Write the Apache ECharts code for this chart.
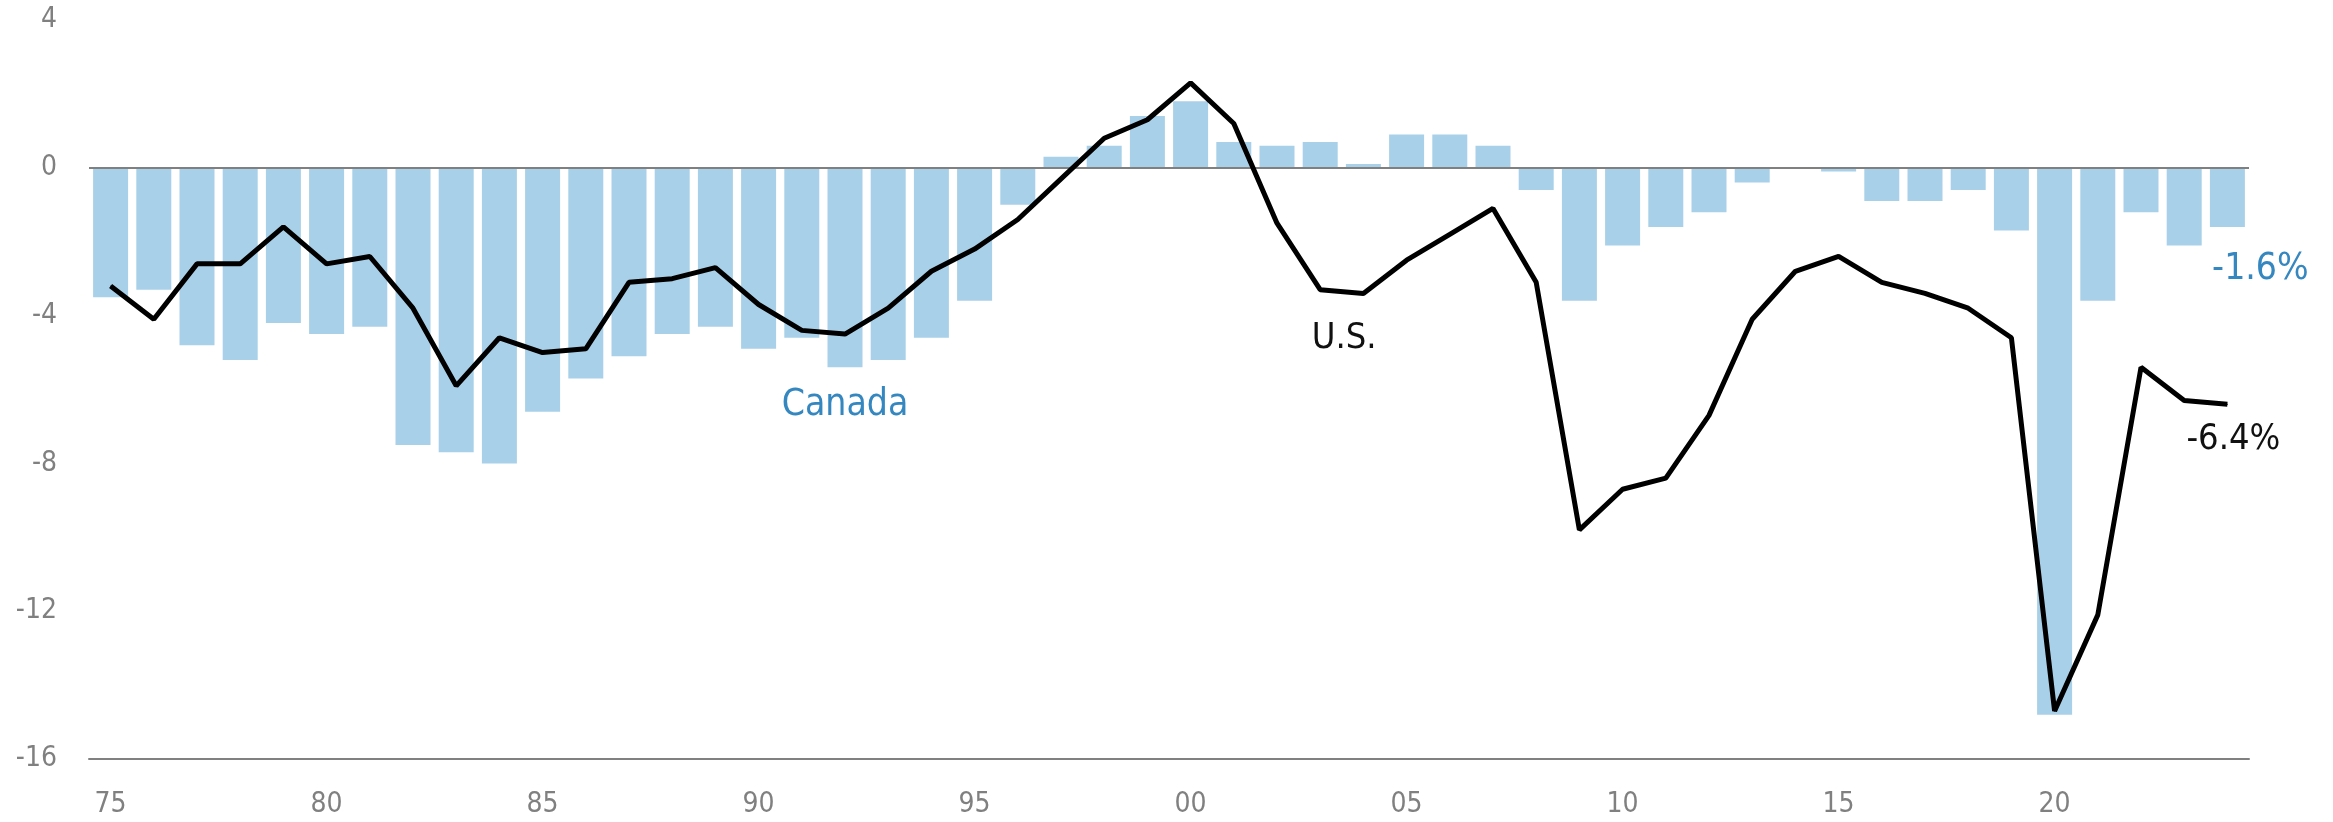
<!DOCTYPE html>
<html>
<head>
<meta charset="utf-8">
<script src="https://cdn.jsdelivr.net/npm/echarts@6/dist/echarts.min.js"></script>
<style>
  html, body { margin: 0; padding: 0; background: #fff; }
  #chart { width: 2333px; height: 822px; }
</style>
</head>
<body>
<div id="chart"></div>
<script>
// year labels, two digits like the original
const years = ['75','76','77','78','79','80','81','82','83','84',
               '85','86','87','88','89','90','91','92','93','94',
               '95','96','97','98','99','00','01','02','03','04',
               '05','06','07','08','09','10','11','12','13','14',
               '15','16','17','18','19','20','21','22','23','24'];

// Canada (bars), % of GDP
const canada = [-3.5,-3.3,-4.8,-5.2,-4.2,-4.5,-4.3,-7.5,-7.7,-8.0,
                -6.6,-5.7,-5.1,-4.5,-4.3,-4.9,-4.6,-5.4,-5.2,-4.6,
                -3.6,-1.0, 0.3, 0.6, 1.4, 1.8, 0.7, 0.6, 0.7, 0.1,
                 0.9, 0.9, 0.6,-0.6,-3.6,-2.1,-1.6,-1.2,-0.4, 0.0,
                -0.1,-0.9,-0.9,-0.6,-1.7,-14.8,-3.6,-1.2,-2.1,-1.6];

// U.S. (line), % of GDP
const us = [-3.2,-4.1,-2.6,-2.6,-1.6,-2.6,-2.4,-3.8,-5.9,-4.6,
            -5.0,-4.9,-3.1,-3.0,-2.7,-3.7,-4.4,-4.5,-3.8,-2.8,
            -2.2,-1.4,-0.3, 0.8, 1.3, 2.3, 1.2,-1.5,-3.3,-3.4,
            -2.5,-1.8,-1.1,-3.1,-9.8,-8.7,-8.4,-6.7,-4.1,-2.8,
            -2.4,-3.1,-3.4,-3.8,-4.6,-14.7,-12.1,-5.4,-6.3,-6.4];

const canadaLabelAt = 17; // 1992
const usLabelAt = 28;     // 2003

const FONT = '"DejaVu Sans Condensed", "Liberation Sans", sans-serif';
const GREY = '#808080';
const BLUE = '#3587c0';

const last = years.length - 1;

const canadaData = canada.map((v, i) => {
  if (i === canadaLabelAt) {
    return { value: v, label: { show: true, position: 'bottom', distance: 20, formatter: 'Canada' } };
  }
  if (i === last) {
    return { value: v, label: { show: true, position: 'bottom', distance: 24, offset: [33, 0], formatter: v.toFixed(1) + '%' } };
  }
  return v;
});

const usData = us.map((v, i) => {
  if (i === usLabelAt) {
    return { value: v, label: { show: true, position: 'bottom', distance: 30, offset: [24, 0], formatter: 'U.S.' } };
  }
  if (i === last) {
    return { value: v, label: { show: true, position: 'bottom', distance: 17, offset: [6, 0], formatter: v.toFixed(1) + '%' } };
  }
  return v;
});

const chart = echarts.init(document.getElementById('chart'));
chart.setOption({
  animation: false,
  textStyle: { fontFamily: FONT },
  grid: { left: 89, right: 84, top: 20, bottom: 63 },
  xAxis: {
    type: 'category',
    data: years,
    axisLine: { onZero: false, lineStyle: { color: GREY, width: 2 } },
    axisTick: { inside: true, length: 10, interval: 4, lineStyle: { color: GREY, width: 2 } },
    axisLabel: { interval: 4, color: GREY, fontSize: 28, fontFamily: FONT, margin: 32 },
    splitLine: { show: false }
  },
  yAxis: {
    type: 'value',
    min: -16,
    max: 4,
    interval: 4,
    axisLine: { show: false },
    axisTick: { show: false },
    splitLine: { show: false },
    axisLabel: { color: GREY, fontSize: 28, fontFamily: FONT, margin: 32 }
  },
  series: [
    {
      name: 'Canada',
      type: 'bar',
      data: canadaData,
      barCategoryGap: '19%',
      itemStyle: { color: '#a8d1e9' },
      label: { show: false, color: BLUE, fontSize: 37, fontFamily: FONT },
      markLine: {
        silent: true,
        symbol: ['none', 'none'],
        label: { show: false },
        lineStyle: { color: GREY, width: 2, type: 'solid' },
        data: [{ yAxis: 0 }]
      }
    },
    {
      name: 'U.S.',
      type: 'line',
      data: usData,
      symbol: 'circle',
      symbolSize: 1,
      showSymbol: true,
      itemStyle: { color: '#000' },
      lineStyle: { color: '#000', width: 5 },
      label: { show: false, color: '#111', fontSize: 36, fontFamily: FONT },
      z: 5
    }
  ]
});
</script>
</body>
</html>
